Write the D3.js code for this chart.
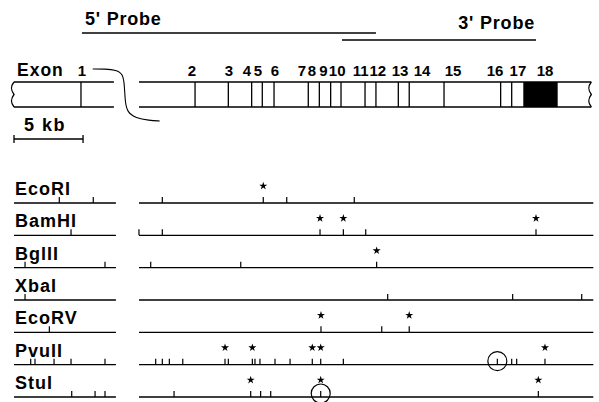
<!DOCTYPE html>
<html><head><meta charset="utf-8">
<script src="https://cdn.jsdelivr.net/npm/d3@7"></script>
<style>body{margin:0;background:#fff}svg text{font-family:"Liberation Sans",Arial,Helvetica,sans-serif;font-weight:bold;fill:#000}</style>
</head><body>
<svg id="c" width="599" height="402"></svg>
<script>
// ---- data (positions along the gene, in kb) ----
const exonNames = ["1","2","3","4","5","6","7","8","9","10","11","12","13","14","15","16","17","18"];
const exonPositions = [4.85,13.11,15.52,17.21,17.98,18.83,21.31,22.11,22.93,23.68,25.42,26.21,27.83,28.62,31.14,35.24,36.04,36.88];
const exon18End = 39.37;
const exonLabelPositions = [4.92,12.89,15.57,16.87,17.67,18.90,20.85,21.58,22.40,23.40,25.10,26.35,27.95,29.55,31.79,34.83,36.49,38.45];
const segments = [[0,7.38],[9.05,41.95]];
const probeNames = ["5' Probe","3' Probe"];
const probeStarts = [4.92,23.75];
const probeEnds = [26.21,37.80];
const scaleBarKb = 5;
const enzymes = ["EcoRI","BamHI","BglII","XbaI","EcoRV","PvuII","StuI"];
const sitesEcoRI = [3.28,5.74,10.74,18.05,19.75,24.64];
const sitesBamHI = [4.13,9.05,10.74,22.16,23.85,25.47,37.80];
const sitesBglII = [0.80,6.59,9.90,16.42,26.26];
const sitesXbaI  = [0.80,27.06,36.11,41.11];
const sitesEcoRV = [2.56,22.23,26.63,28.62];
const sitesPvuII = [1.21,1.52,2.90,4.13,6.59,10.26,10.74,11.25,12.22,15.28,15.52,17.26,17.45,17.81,18.90,19.99,21.60,22.21,23.85,35.00,36.04,36.40,38.45];
const sitesStuI  = [4.18,5.87,6.59,11.59,17.14,17.86,18.59,22.21,37.97];
const starsEcoRI = [18.05];
const starsBamHI = [22.16,23.85,37.80];
const starsBglII = [26.26];
const starsXbaI  = [];
const starsEcoRV = [22.23,28.62];
const starsPvuII = [15.28,17.26,21.60,22.21,38.45];
const starsStuI  = [17.14,22.21,37.97];
const circledPvuII = [35.00];
const circledStuI  = [22.21];

const sites = [sitesEcoRI,sitesBamHI,sitesBglII,sitesXbaI,sitesEcoRV,sitesPvuII,sitesStuI];
const stars = [starsEcoRI,starsBamHI,starsBglII,starsXbaI,starsEcoRV,starsPvuII,starsStuI];
const circled = [[],[],[],[],[],circledPvuII,circledStuI];

// ---- drawing ----
const svg = d3.select("#c");
const x = d3.scaleLinear().domain([0,42]).range([14,594]);
const y = d3.scalePoint().domain(enzymes).range([203,397]);

// probes
const probeY = [33,40];
const probeTextY = [25,29];
probeNames.forEach((p,i)=>{
  svg.append("line").attr("x1",x(probeStarts[i])).attr("x2",x(probeEnds[i]))
    .attr("y1",probeY[i]).attr("y2",probeY[i]).attr("stroke","#000").attr("stroke-width",1.3);
  const t = svg.append("text").attr("y",probeTextY[i]).attr("font-size",18).attr("font-weight","600")
    .attr("letter-spacing",0.8).text(p);
  if(i===0) t.attr("x",x(probeStarts[i])+3);
  else t.attr("x",x(probeEnds[i])-1).attr("text-anchor","end");
});

// exon box
const boxTop = 82, boxBot = 107;
const g = svg.append("g").attr("stroke","#000").attr("stroke-width",1.3).attr("fill","none");
segments.forEach(s=>{
  g.append("line").attr("x1",x(s[0])).attr("x2",x(s[1])-2).attr("y1",boxTop).attr("y2",boxTop);
  g.append("line").attr("x1",x(s[0])).attr("x2",x(s[1])-2).attr("y1",boxBot).attr("y2",boxBot);
});
function wave(xx){
  const m=(boxTop+boxBot)/2;
  return `M${xx},${boxTop} C${xx-4},${boxTop+5} ${xx-3},${m-4} ${xx},${m} C${xx-3},${m+4} ${xx-4},${boxBot-5} ${xx},${boxBot}`;
}
g.append("path").attr("d",wave(x(segments[0][0])));
g.append("path").attr("d",wave(x(segments[1][1])-2));
exonPositions.slice(0,17).forEach(e=>{
  g.append("line").attr("x1",x(e)).attr("x2",x(e)).attr("y1",boxTop).attr("y2",boxBot);
});
svg.append("rect").attr("x",x(exonPositions[17])).attr("y",boxTop).attr("width",x(exon18End)-x(exonPositions[17]))
  .attr("height",boxBot-boxTop).attr("fill","#000");
svg.append("text").attr("x",x(0)+3).attr("y",76).attr("font-size",17.5).attr("letter-spacing",1).text("Exon");
exonNames.forEach((n,i)=>{
  svg.append("text").attr("x",x(exonLabelPositions[i])).attr("y",76).attr("text-anchor","middle")
    .attr("font-size",15).text(n);
});
const curve = d3.line().curve(d3.curveBasis);
g.append("path").attr("stroke-width",1.1).attr("d",curve([
  [x(5.7),69],[x(6.6),69],[x(7.4),70],[x(7.9),74],[x(8.0),86],[x(8.05),102],[x(8.2),112],[x(8.8),118],[x(9.8),120.5],[x(10.55),121]
]));
const sbY = 139;
g.append("line").attr("x1",x(0)).attr("x2",x(scaleBarKb)).attr("y1",sbY).attr("y2",sbY);
g.append("line").attr("x1",x(0)).attr("x2",x(0)).attr("y1",sbY-4).attr("y2",sbY+4);
g.append("line").attr("x1",x(scaleBarKb)).attr("x2",x(scaleBarKb)).attr("y1",sbY-4).attr("y2",sbY+4);
svg.append("text").attr("x",x(0)+10).attr("y",131).attr("font-size",18).attr("letter-spacing",1.5).text(scaleBarKb+" kb");

enzymes.forEach((enz,i)=>{
  const yy = y(enz);
  svg.append("text").attr("x",x(0)+1).attr("y",yy-8).attr("font-size",18).attr("letter-spacing",1).text(enz);
  segments.forEach(s=>{
    g.append("line").attr("x1",x(s[0])).attr("x2",x(s[1])).attr("y1",yy).attr("y2",yy).attr("stroke-width",1.4);
  });
  sites[i].forEach(s=>{
    g.append("line").attr("x1",x(s)).attr("x2",x(s)).attr("y1",yy).attr("y2",yy-6).attr("stroke-width",1.2);
  });
  stars[i].forEach(s=>{
    svg.append("path").attr("d",d3.symbol(d3.symbolStar,20)()).attr("transform",`translate(${x(s)},${yy-17})`).attr("fill","#000");
  });
  circled[i].forEach(s=>{
    g.append("circle").attr("cx",x(s)).attr("cy",yy-3.5).attr("r",9.5).attr("stroke-width",1.2);
  });
});
</script>
</body></html>
